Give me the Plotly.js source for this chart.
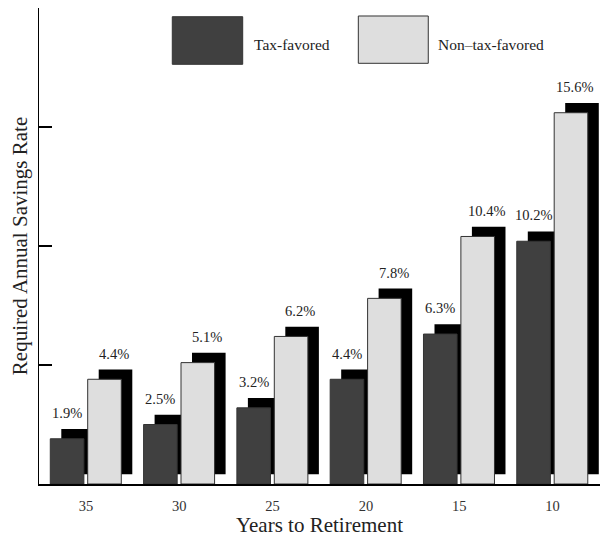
<!DOCTYPE html>
<html>
<head>
<meta charset="utf-8">
<script src="https://cdn.plot.ly/plotly-3.0.1.min.js"></script>
<style>
  html, body { margin: 0; padding: 0; background: #fff; }
  #chart { width: 600px; height: 537px; }
</style>
</head>
<body>
<div id="chart"></div>
<script>
// Years to retirement and the savings rate required for each account type (%)
const years = ['35', '30', '25', '20', '15', '10'];
const taxFavored = [1.9, 2.5, 3.2, 4.4, 6.3, 10.2];
const nonTaxFavored = [4.4, 5.1, 6.2, 7.8, 10.4, 15.6];
const seriesNames = ['Tax-favored', 'Non\u2013tax-favored'];
const yTicks = [5, 10, 15, 20];

// Bar geometry, in category units
const BAR_W = 0.36;
const DARK_OFF = -0.383;
const LIGHT_OFF = 0.018;
const SHADOW_DX = 0.118;   // drop shadow shifted right
const LIFT = 0.41;          // drop shadow raised (in % units)
const X_RANGE = [-0.504, 5.509];
const LABEL_MAX_X = 5.24;

const FONT = 'Liberation Serif, Times New Roman, serif';
const DARK = '#404040';
const LIGHT = '#dedede';
const EDGE = '#333333';

const idx = years.map((_, i) => i);

function shadow(values, off) {
  return {
    type: 'bar', x: idx, y: values, base: LIFT,
    offset: off + SHADOW_DX, width: BAR_W,
    marker: { color: '#000', line: { width: 0 } },
    hoverinfo: 'skip', showlegend: false
  };
}
function front(values, off, color, name) {
  return {
    type: 'bar', x: idx, y: values, name: name,
    offset: off, width: BAR_W,
    marker: { color: color, line: { color: EDGE, width: 1 } },
    hoverinfo: 'skip', showlegend: false
  };
}

const traces = [
  shadow(taxFavored, DARK_OFF),
  front(taxFavored, DARK_OFF, DARK, seriesNames[0]),
  shadow(nonTaxFavored, LIGHT_OFF),
  front(nonTaxFavored, LIGHT_OFF, LIGHT, seriesNames[1])
];

const labelFont = { family: FONT, size: 14.5, color: '#222' };
const annotations = [];
taxFavored.forEach((v, i) => {
  annotations.push({
    x: i + DARK_OFF + BAR_W / 2, y: v + LIFT, xref: 'x', yref: 'y',
    text: v.toFixed(1) + '%', showarrow: false,
    xanchor: 'center', yanchor: 'bottom', yshift: 6, font: labelFont
  });
});
nonTaxFavored.forEach((v, i) => {
  annotations.push({
    x: Math.min(i + LIGHT_OFF + SHADOW_DX + BAR_W / 2 - 0.02, LABEL_MAX_X),
    y: v + LIFT, xref: 'x', yref: 'y',
    text: v.toFixed(1) + '%', showarrow: false,
    xanchor: 'center', yanchor: 'bottom', yshift: 6, font: labelFont
  });
});

// Key: large swatches with their names
const legendFont = { family: FONT, size: 15.5, color: '#222' };
const shapes = [
  { type: 'rect', xref: 'paper', yref: 'paper', x0: 0.2376, x1: 0.3631, y0: 0.8817, y1: 0.9817,
    fillcolor: DARK, line: { color: EDGE, width: 1 } },
  { type: 'rect', xref: 'paper', yref: 'paper', x0: 0.5692, x1: 0.6939, y0: 0.8838, y1: 0.9832,
    fillcolor: LIGHT, line: { color: EDGE, width: 1 } }
];
annotations.push({
  xref: 'paper', yref: 'paper', x: 0.3790, y: 0.9223, xanchor: 'left', yanchor: 'middle',
  text: seriesNames[0], showarrow: false, font: legendFont
});
annotations.push({
  xref: 'paper', yref: 'paper', x: 0.7080, y: 0.9223, xanchor: 'left', yanchor: 'middle',
  text: seriesNames[1], showarrow: false, font: legendFont
});

const layout = {
  width: 600, height: 537,
  margin: { l: 39, r: 0, t: 8, b: 53 },
  paper_bgcolor: '#fff', plot_bgcolor: '#fff',
  barmode: 'overlay',
  showlegend: false,
  font: { family: FONT, color: '#222' },
  xaxis: {
    range: X_RANGE, tickvals: idx, ticktext: years,
    ticks: '', showgrid: false, zeroline: false,
    showline: true, linecolor: '#000', linewidth: 2,
    tickfont: { family: FONT, size: 14.5, color: '#333' },
    ticklabelstandoff: 8,
    title: { text: 'Years to Retirement', font: { family: FONT, size: 21, color: '#222' }, standoff: 0 },
    automargin: false, fixedrange: true
  },
  yaxis: {
    range: [0, 20], tickvals: yTicks, showticklabels: false,
    ticks: 'inside', ticklen: 13, tickwidth: 1.2, tickcolor: '#000',
    showgrid: false, zeroline: false,
    showline: true, linecolor: '#000', linewidth: 1.5,
    title: { text: 'Required Annual Savings Rate', font: { family: FONT, size: 21, color: '#222' }, standoff: 4 },
    automargin: false, fixedrange: true
  },
  shapes: shapes,
  annotations: annotations
};

Plotly.newPlot('chart', traces, layout, { staticPlot: true, displayModeBar: false });
</script>
</body>
</html>
